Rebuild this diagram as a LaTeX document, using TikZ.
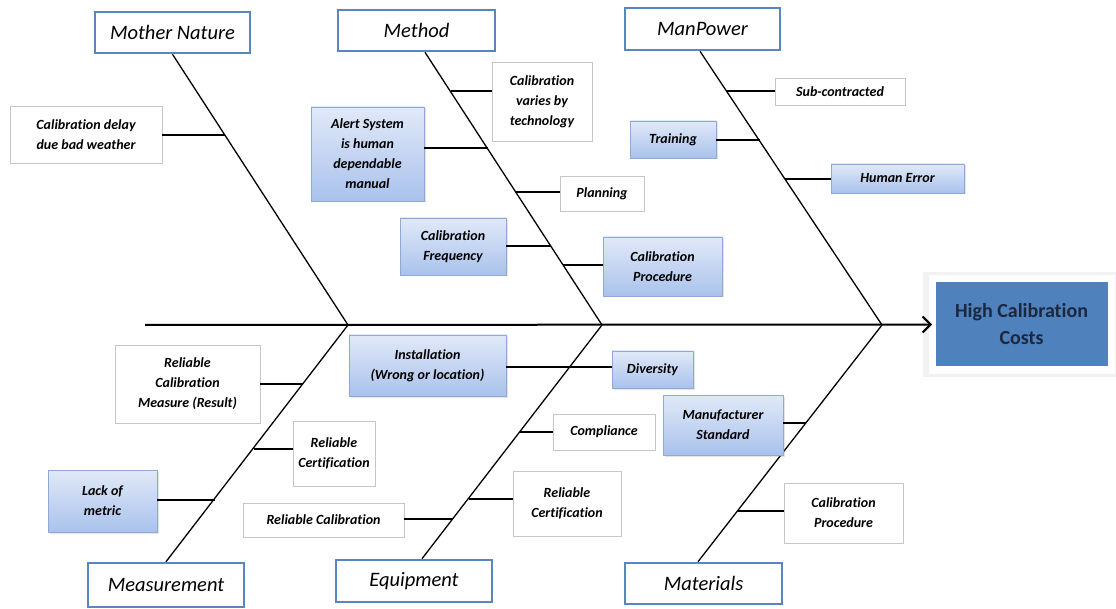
\documentclass[tikz,border=0pt]{standalone}
\usepackage{fontspec}
\setmainfont{Carlito}[Ligatures={NoCommon}]
\usetikzlibrary{arrows.meta,shadows,calc}
\definecolor{hdrblue}{HTML}{5A86BE}
\definecolor{effblue}{HTML}{4F81BD}
\definecolor{btop}{HTML}{E1E9F8}
\definecolor{bbot}{HTML}{A9C2EC}
\definecolor{bedge}{HTML}{8EA9D4}
\definecolor{efftext}{HTML}{1C2740}
\begin{document}
\begin{tikzpicture}[x=1pt,y=-1pt,
  hdr/.style={draw=hdrblue, line width=2.6pt, fill=white, inner sep=0pt,
    font=\fontsize{20.5}{22}\selectfont\itshape},
  wbox/.style={draw=gray!45, line width=0.7pt, fill=white, align=center, inner sep=0pt,
    font=\fontsize{14}{20}\selectfont\bfseries\itshape},
  bbox/.style={wbox, draw=bedge, top color=btop, bottom color=bbot,
    drop shadow={opacity=0.22, shadow xshift=1.5pt, shadow yshift=-1.5pt}},
  bone/.style={line width=1.3pt},
  thn/.style={line width=1.2pt},
  thk/.style={line width=2pt},
  spine/.style={line width=2pt, -{Straight Barb[length=8pt, width=16pt]}}]
\useasboundingbox (0,0) rectangle (1116,609);

% effect
\fill[gray!10] (923,272) rectangle (1116,377);
\node[draw=white, line width=7pt, fill=effblue, outer sep=0pt, inner sep=0pt,
  minimum width=179pt, minimum height=91pt, align=center, text=efftext,
  font=\fontsize{20}{27}\selectfont\bfseries] (eff) at (1021.5,324.5) {High Calibration\\Costs};

% headers
\node[hdr, minimum width=155pt, minimum height=41pt] (hMN) at (172.5,32.5) {Mother Nature};
\node[hdr, minimum width=157pt, minimum height=41pt] (hMe) at (416.5,30.5) {Method};
\node[hdr, minimum width=155pt, minimum height=42pt] (hMP) at (702.5,29) {ManPower};
\node[hdr, minimum width=156pt, minimum height=44pt] (hMs) at (166,585) {Measurement};
\node[hdr, minimum width=156pt, minimum height=42pt] (hEq) at (414,581) {Equipment};
\node[hdr, minimum width=157pt, minimum height=41pt] (hMa) at (703.5,583.5) {Materials};

% joints on spine
\coordinate (s0) at (145,325);
\coordinate (jA) at (348,325);
\coordinate (jB) at (602,325);
\coordinate (jC) at (882,325);

\draw[spine] (s0) -- (eff.west);

% bones
\draw[bone] (hMN.south) -- (jA);
\draw[bone] ($(hMe.south)+(8.5,0)$) -- (jB);
\draw[bone] ($(hMP.south)+(-2.5,0)$) -- (jC);
\draw[bone] (hMs.north) -- (jA);
\draw[bone] ($(hEq.north)+(8,0)$) -- (jB);
\draw[bone] ($(hMa.north)+(-5.5,0)$) -- (jC);

% sub-cause boxes
\node[wbox, minimum width=152pt, minimum height=57pt] (mn1) at (86,134.5) {Calibration delay\\due bad weather};

\node[wbox, minimum width=100pt, minimum height=79pt] (me1) at (542,101.5) {Calibration\\varies by\\technology};
\node[bbox, minimum width=113pt, minimum height=94pt] (me2) at (367.5,154) {Alert System\\is human\\dependable\\manual};
\node[wbox, minimum width=84pt, minimum height=35pt] (me3) at (602,193.5) {Planning};
\node[bbox, minimum width=106pt, minimum height=57pt] (me4) at (453,246.5) {Calibration\\Frequency};
\node[bbox, minimum width=119pt, minimum height=59pt] (me5) at (662.5,266.5) {Calibration\\Procedure};

\node[wbox, minimum width=130pt, minimum height=27pt] (mp1) at (840,91.5) {Sub-contracted};
\node[bbox, minimum width=86pt, minimum height=37pt] (mp2) at (673,139.5) {Training};
\node[bbox, minimum width=133pt, minimum height=29pt] (mp3) at (897.5,178.5) {Human Error};

\node[wbox, minimum width=145pt, minimum height=78pt] (ms1) at (187.5,384) {Reliable\\Calibration\\Measure (Result)};
\node[wbox, minimum width=82pt, minimum height=65pt] (ms2) at (334,453.5) {Reliable\\Certification};
\node[bbox, minimum width=109pt, minimum height=62pt] (ms3) at (102.5,501) {Lack of\\metric};

\node[bbox, minimum width=157pt, minimum height=61pt] (eq1) at (427.5,365.5) {Installation\\(Wrong or location)};
\node[bbox, minimum width=81pt, minimum height=37pt] (eq2) at (652.5,369.5) {Diversity};
\node[wbox, minimum width=102pt, minimum height=36pt] (eq3) at (604,432) {Compliance};
\node[wbox, minimum width=108pt, minimum height=65pt] (eq4) at (567,503.5) {Reliable\\Certification};
\node[wbox, minimum width=161pt, minimum height=34pt] (eq5) at (323.5,520) {Reliable Calibration};

\node[bbox, minimum width=120pt, minimum height=60pt] (ma1) at (723,425) {Manufacturer\\Standard};
\node[wbox, minimum width=119pt, minimum height=60pt] (ma2) at (843.5,513) {Calibration\\Procedure};

% points on bones
\coordinate (b11) at (225,135);
\coordinate (b21) at (450.8,91);
\coordinate (b22) at (487.7,148);
\coordinate (b23) at (516.1,192);
\coordinate (b24) at (551,246);
\coordinate (b25) at (563.2,265);
\coordinate (b31) at (727.1,91);
\coordinate (b32) at (759.6,140);
\coordinate (b33) at (785.4,179);
\coordinate (b41) at (303.1,384);
\coordinate (b42) at (253.7,449);
\coordinate (b43) at (214.9,500);
\coordinate (b51) at (570,367);
\coordinate (b52) at (520,432);
\coordinate (b53) at (468.7,499);
\coordinate (b54) at (453.4,519);
\coordinate (b61) at (806.2,423);
\coordinate (b62) at (738.2,511);

% sub-cause lines
\draw[thk] (mn1.east |- b11) -- (b11);
\draw[thn] (me1.west |- b21) -- (b21);
\draw[thk] (me2.east |- b22) -- (b22);
\draw[thn] (me3.west |- b23) -- (b23);
\draw[thk] (me4.east |- b24) -- (b24);
\draw[thk] (me5.west |- b25) -- (b25);
\draw[thn] (mp1.west |- b31) -- (b31);
\draw[thk] (mp2.east |- b32) -- (b32);
\draw[thn] (mp3.west |- b33) -- (b33);
\draw[thn] (ms1.east |- b41) -- (b41);
\draw[thn] (ms2.west |- b42) -- (b42);
\draw[thk] (ms3.east |- b43) -- (b43);
\draw[thn] (eq1.east |- b51) -- (eq2.west |- b51);
\draw[thk] (eq3.west |- b52) -- (b52);
\draw[thk] (eq4.west |- b53) -- (b53);
\draw[thn] (eq5.east |- b54) -- (b54);
\draw[thk] (ma1.east |- b61) -- (b61);
\draw[thk] (ma2.west |- b62) -- (b62);
\end{tikzpicture}
\end{document}
